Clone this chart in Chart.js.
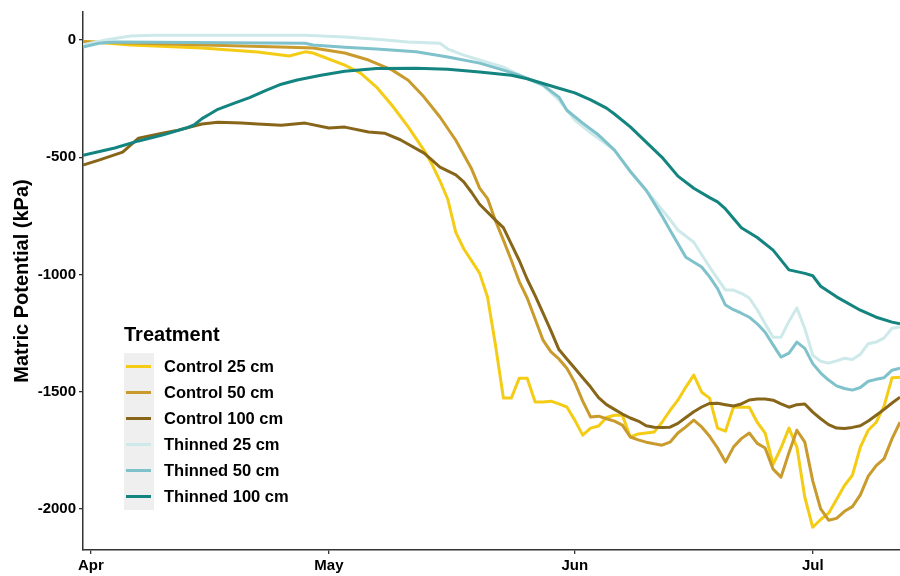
<!DOCTYPE html>
<html>
<head>
<meta charset="utf-8">
<script src="https://cdn.jsdelivr.net/npm/chart.js@4/dist/chart.umd.min.js"></script>
<style>
  html, body { margin: 0; padding: 0; background: #ffffff; }
  #wrap { position: relative; width: 900px; height: 576px; overflow: hidden; font-family: "Liberation Sans", Arial, sans-serif; }
  #chart { position: absolute; left: 0; top: 0; }
  #legend-title { position: absolute; left: 124px; top: 321px; font-weight: bold; font-size: 20px; line-height: 26px; color: #000; }
  #legend-keys { position: absolute; left: 124px; top: 353px; width: 30px; height: 157px; background: #efefef; }
  .row { position: absolute; left: 124px; height: 26px; line-height: 26px; }
  .swatch { position: absolute; left: 2px; top: 12px; width: 25px; height: 3px; }
  .lab { position: absolute; left: 40px; top: 0; white-space: nowrap; font-weight: bold; font-size: 16.5px; color: #000; }
</style>
</head>
<body>
<div id="wrap">
  <canvas id="chart" width="900" height="576"></canvas>
  <div id="legend-title">Treatment</div>
  <div id="legend-keys"></div>
  <div id="legend-rows"></div>
</div>
<script>
// Days are counted from 1 April (day 0); values are soil matric potential in kPa.
const monthTicks = [0, 30, 61, 91];
const monthLabels = ['Apr', 'May', 'Jun', 'Jul'];
const yTicks = [0, -500, -1000, -1500, -2000];

const seriesNames = ['Control 25 cm', 'Control 50 cm', 'Control 100 cm', 'Thinned 25 cm', 'Thinned 50 cm', 'Thinned 100 cm'];
const seriesColors = ['#F4CC16', '#C99A2C', '#87661A', '#CDE9EA', '#7FC2CB', '#13847F'];

const control25Days = [-1, 5, 14, 21, 25, 27, 28, 32, 34, 36, 38, 40, 42, 43, 44, 45, 46, 47, 49, 50, 51, 52, 53, 54, 55, 56, 57, 58, 59, 60, 61, 62, 63, 64, 65, 66, 67, 68, 69, 70, 71, 72, 73, 74, 75, 76, 77, 78, 79, 80, 81, 82, 83, 84, 85, 86, 87, 88, 89, 90, 91, 92, 93, 94, 95, 96, 97, 98, 99, 100, 101, 102];
const control25 = [-5, -21, -34, -51, -68, -50, -55, -107, -141, -200, -280, -370, -470, -530, -600, -680, -820, -890, -994, -1096, -1300, -1527, -1527, -1442, -1442, -1544, -1544, -1540, -1552, -1565, -1621, -1685, -1655, -1646, -1610, -1600, -1600, -1693, -1680, -1676, -1672, -1630, -1580, -1536, -1480, -1429, -1502, -1527, -1655, -1668, -1566, -1566, -1566, -1630, -1676, -1810, -1740, -1655, -1736, -1950, -2078, -2045, -2018, -1960, -1900, -1856, -1736, -1664, -1630, -1560, -1440, -1438];

const control50Days = [-1, 25, 28, 32, 35, 38, 40, 42, 44, 46, 48, 49, 50, 51, 52, 53, 54, 55, 56, 57, 58, 59, 60, 61, 62, 63, 64, 65, 66, 67, 68, 69, 70, 71, 72, 73, 74, 75, 76, 77, 78, 79, 80, 81, 82, 83, 84, 85, 86, 87, 88, 89, 90, 91, 92, 93, 94, 95, 96, 97, 98, 99, 100, 101, 102];
const control50 = [-7, -30, -34, -55, -85, -128, -171, -243, -328, -427, -550, -631, -676, -770, -853, -939, -1030, -1100, -1190, -1280, -1330, -1360, -1400, -1460, -1540, -1608, -1604, -1615, -1625, -1642, -1693, -1705, -1715, -1722, -1728, -1715, -1676, -1650, -1621, -1650, -1690, -1740, -1800, -1736, -1700, -1676, -1720, -1740, -1830, -1864, -1760, -1664, -1715, -1880, -2000, -2048, -2040, -2010, -1990, -1940, -1860, -1815, -1785, -1700, -1630];

const control100Days = [-1, 1, 4, 6, 9, 11, 14, 16, 19, 21, 24, 27, 30, 32, 35, 37, 39, 42, 44, 46, 47, 48, 49, 51, 52, 53, 54, 55, 56, 57, 58, 59, 60, 61, 62, 63, 64, 65, 66, 67, 68, 69, 70, 71, 72, 73, 74, 75, 76, 77, 78, 79, 80, 81, 82, 83, 84, 85, 86, 87, 88, 89, 90, 91, 92, 93, 94, 95, 96, 97, 98, 99, 100, 101, 102];
const control100 = [-533, -512, -478, -418, -397, -384, -358, -350, -354, -358, -363, -354, -375, -371, -392, -397, -425, -482, -542, -575, -605, -650, -700, -768, -800, -870, -940, -1020, -1090, -1165, -1240, -1320, -1360, -1400, -1440, -1480, -1525, -1555, -1575, -1595, -1612, -1625, -1645, -1651, -1652, -1651, -1635, -1610, -1585, -1565, -1550, -1549, -1555, -1561, -1552, -1535, -1531, -1531, -1536, -1552, -1566, -1555, -1552, -1587, -1615, -1640, -1655, -1657, -1652, -1645, -1625, -1600, -1575, -1548, -1523];

const thinned25Days = [-1, 2, 5, 8, 27, 32, 36, 40, 44, 45, 47, 49, 52, 54, 57, 59, 61, 63, 66, 68, 71, 73, 74, 76, 78, 80, 81, 82, 83, 84, 85, 86, 87, 88, 89, 90, 91, 92, 93, 94, 95, 96, 97, 98, 99, 100, 101, 102];
const thinned25 = [-20, 2, 18, 21, 21, 13, 4, -8, -13, -38, -64, -85, -115, -149, -192, -256, -341, -395, -469, -560, -682, -765, -810, -862, -968, -1066, -1066, -1080, -1100, -1150, -1210, -1267, -1267, -1200, -1143, -1230, -1344, -1370, -1378, -1368, -1357, -1362, -1340, -1295, -1288, -1270, -1229, -1224];

const thinned50Days = [-1, 1, 3, 27, 28, 32, 36, 41, 45, 49, 52, 54, 57, 59, 60, 62, 64, 66, 68, 70, 71, 72, 73, 75, 77, 78, 79, 80, 81, 82, 83, 84, 85, 86, 87, 88, 89, 90, 91, 92, 93, 94, 95, 96, 97, 98, 99, 100, 101, 102];
const thinned50 = [-30, -13, -8, -13, -21, -30, -38, -50, -72, -98, -128, -149, -192, -243, -299, -354, -405, -469, -560, -640, -695, -750, -810, -926, -968, -1010, -1060, -1130, -1150, -1165, -1182, -1210, -1246, -1300, -1352, -1335, -1288, -1315, -1380, -1420, -1450, -1475, -1486, -1493, -1482, -1455, -1447, -1440, -1408, -1399];

const thinned100Days = [-1, 3, 6, 9, 12, 13, 14, 15, 16, 18, 20, 22, 24, 26, 29, 32, 36, 41, 45, 49, 53, 55, 57, 59, 61, 63, 65, 66, 68, 70, 72, 74, 76, 78, 79, 80, 82, 84, 86, 88, 90, 91, 92, 94, 97, 99, 101, 102];
const thinned100 = [-491, -460, -430, -405, -375, -362, -335, -315, -295, -270, -245, -215, -188, -170, -150, -133, -121, -120, -124, -136, -150, -165, -185, -205, -225, -255, -290, -315, -370, -435, -500, -580, -632, -672, -690, -720, -800, -842, -896, -980, -995, -1005, -1050, -1095, -1152, -1182, -1203, -1210];

const seriesDays = [control25Days, control50Days, control100Days, thinned25Days, thinned50Days, thinned100Days];
const seriesValues = [control25, control50, control100, thinned25, thinned50, thinned100];

const datasets = seriesNames.map((name, i) => ({
  label: name,
  data: seriesDays[i].map((d, k) => ({ x: d, y: seriesValues[i][k] })),
  borderColor: seriesColors[i],
  backgroundColor: seriesColors[i],
  borderWidth: 3,
  borderJoinStyle: 'round',
  borderCapStyle: 'butt',
  pointRadius: 0,
  tension: 0,
  fill: false,
  // later treatments sit on top of earlier ones
  order: seriesNames.length - i
}));

const axisColor = '#333333';
const tickFont = { family: '"Liberation Sans", Arial, sans-serif', size: 15, weight: 'bold' };

new Chart(document.getElementById('chart'), {
  type: 'line',
  data: { datasets },
  options: {
    responsive: false,
    animation: false,
    events: [],
    layout: { padding: { top: 12, right: 0, bottom: 0, left: 0 } },
    plugins: { legend: { display: false }, tooltip: { enabled: false } },
    scales: {
      x: {
        type: 'linear',
        min: -1,
        max: 102,
        afterBuildTicks: (scale) => { scale.ticks = monthTicks.map(v => ({ value: v })); },
        afterFit: (scale) => { scale.height = 26; },
        ticks: {
          autoSkip: false,
          maxRotation: 0,
          padding: 3,
          color: '#000',
          font: tickFont,
          callback: (value, index) => monthLabels[index]
        },
        grid: { drawOnChartArea: false, drawTicks: true, tickLength: 4, color: axisColor, lineWidth: 1.3 },
        border: { display: true, color: axisColor, width: 1.5 }
      },
      y: {
        type: 'linear',
        min: -2175,
        max: 120,
        afterBuildTicks: (scale) => { scale.ticks = yTicks.map(v => ({ value: v })); },
        afterFit: (scale) => { scale.width = 83; },
        ticks: {
          autoSkip: false,
          padding: 3,
          color: '#000',
          font: tickFont,
          callback: (value) => String(value)
        },
        title: {
          display: true,
          text: 'Matric Potential (kPa)',
          color: '#000',
          font: { family: '"Liberation Sans", Arial, sans-serif', size: 20, weight: 'bold' },
          padding: { top: 10, bottom: 0 }
        },
        grid: { drawOnChartArea: false, drawTicks: true, tickLength: 4, color: axisColor, lineWidth: 1.3 },
        border: { display: true, color: axisColor, width: 1.5 }
      }
    }
  }
});

// Legend built from the same series names and colours
const rows = document.getElementById('legend-rows');
seriesNames.forEach((name, i) => {
  const row = document.createElement('div');
  row.className = 'row';
  row.style.top = (353 + i * 26) + 'px';
  const sw = document.createElement('div');
  sw.className = 'swatch';
  sw.style.background = seriesColors[i];
  const lab = document.createElement('div');
  lab.className = 'lab';
  lab.textContent = name;
  row.appendChild(sw);
  row.appendChild(lab);
  rows.appendChild(row);
});
</script>
</body>
</html>
